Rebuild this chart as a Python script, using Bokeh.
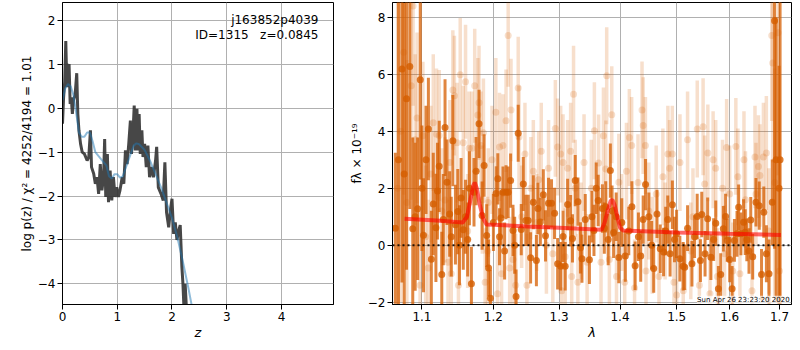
from bokeh.plotting import figure
from bokeh.layouts import row
from bokeh.models import (ColumnDataSource, Range1d, FixedTicker, CustomJSTickFormatter,
                          Label, Span)
from bokeh.embed import file_html
from bokeh.resources import INLINE

# ---------------- data: left panel (redshift probability) ----------------
z_pz = [0.00, 0.02, 0.04, 0.06, 0.08, 0.09, 0.11, 0.12, 0.14, 0.16,
        0.18, 0.20, 0.23, 0.26, 0.28, 0.30, 0.33, 0.36, 0.40, 0.45,
        0.48, 0.51, 0.53, 0.57, 0.60, 0.63, 0.66, 0.69, 0.72, 0.75,
        0.77, 0.79, 0.82, 0.84, 0.87, 0.90, 0.93, 0.96, 0.99, 1.02,
        1.05, 1.09, 1.12, 1.15, 1.18, 1.21, 1.24, 1.26, 1.29, 1.31,
        1.33, 1.36, 1.38, 1.40, 1.42, 1.45, 1.47, 1.50, 1.53, 1.56,
        1.59, 1.62, 1.66, 1.70, 1.72, 1.75, 1.80, 1.84, 1.87, 1.90,
        1.94, 1.97, 2.00, 2.03, 2.06, 2.09, 2.12, 2.15, 2.18, 2.20,
        2.22, 2.24, 2.27, 2.30]
logp_pz = [-0.35, 0.25, 0.60, 1.53, 0.48, 1.01, 0.56, 1.01, 0.10, 0.25,
           -0.13, 0.18, 0.30, 0.80, -0.13, -0.50, -0.81, -1.00, -1.04, -1.19,
           -1.11, -0.50, -1.34, -1.49, -1.72, -1.57, -1.95, -1.27, -1.87, -1.57,
           -0.70, -2.02, -1.04, -2.14, -1.42, -2.10, -1.57, -2.02, -1.80, -2.02,
           -1.87, -1.57, -1.72, -0.96, -1.27, -0.81, -0.28, -1.04, -0.50, 0.06,
           -0.96, -0.01, -0.96, -0.13, -1.04, -0.50, -1.11, -0.81, -1.34, -0.85,
           -1.57, -1.34, -1.57, -1.19, -0.88, -1.80, -1.95, -2.10, -1.23, -2.37,
           -2.71, -2.33, -2.06, -2.86, -2.60, -3.00, -2.80, -2.66, -3.60, -4.00,
           -4.60, -4.00, -4.70, -5.00]

z_smooth = [0.00, 0.05, 0.10, 0.15, 0.20, 0.25, 0.30, 0.35, 0.40, 0.45,
            0.50, 0.55, 0.60, 0.70, 0.80, 0.85, 0.90, 0.95, 1.00, 1.05,
            1.10, 1.20, 1.30, 1.35, 1.40, 1.50, 1.60, 1.70, 1.80, 1.90,
            2.00, 2.10, 2.20, 2.30, 2.40]
logp_smooth = [0.18, 0.45, 0.55, 0.50, 0.30, -0.10, -0.55, -0.65, -0.65, -0.55,
               -0.55, -0.75, -1.00, -1.15, -1.30, -1.55, -1.60, -1.50, -1.50, -1.58,
               -1.55, -1.20, -0.85, -0.80, -0.82, -0.95, -1.20, -1.50, -1.80, -2.15,
               -2.50, -2.95, -3.50, -4.10, -4.75]

z_ticks = [0, 1, 2, 3, 4]
logp_ticks = [-4, -3, -2, -1, 0, 1, 2]

# ---------------- data: right panel (spectrum) ----------------
wave_dark = [
    1.0650, 1.0690, 1.0736, 1.0765, 1.0796, 1.0839, 1.0878, 1.0910, 1.0943, 1.0978,
    1.1000, 1.1021, 1.1055, 1.1087, 1.1127, 1.1153, 1.1189, 1.1210, 1.1234, 1.1269,
    1.1290, 1.1314, 1.1341, 1.1378, 1.1400, 1.1422, 1.1458, 1.1491, 1.1515, 1.1537,
    1.1568, 1.1600, 1.1630, 1.1655, 1.1683, 1.1720, 1.1750, 1.1792, 1.1836, 1.1865,
    1.1902, 1.1930, 1.1957, 1.2000, 1.2039, 1.2065, 1.2090, 1.2111, 1.2141, 1.2165,
    1.2186, 1.2218, 1.2254, 1.2290, 1.2315, 1.2336, 1.2368, 1.2414, 1.2445, 1.2483,
    1.2520, 1.2556, 1.2598, 1.2645, 1.2668, 1.2706, 1.2752, 1.2786, 1.2833, 1.2880,
    1.2928, 1.2976, 1.3024, 1.3062, 1.3096, 1.3135, 1.3183, 1.3213, 1.3257, 1.3301,
    1.3341, 1.3366, 1.3420, 1.3488, 1.3530, 1.3563, 1.3600, 1.3633, 1.3704, 1.3735,
    1.3759, 1.3800, 1.3836, 1.3865, 1.3891, 1.3935, 1.3979, 1.4030, 1.4091, 1.4150,
    1.4204, 1.4260, 1.4317, 1.4357, 1.4400, 1.4442, 1.4500, 1.4550, 1.4586, 1.4645,
    1.4703, 1.4762, 1.4800, 1.4838, 1.4880, 1.4921, 1.4960, 1.4998, 1.5058, 1.5118,
    1.5148, 1.5200, 1.5281, 1.5330, 1.5379, 1.5440, 1.5465, 1.5527, 1.5576, 1.5638,
    1.5690, 1.5731, 1.5781, 1.5826, 1.5876, 1.5920, 1.5952, 1.6000, 1.6047, 1.6092,
    1.6143, 1.6175, 1.6220, 1.6272, 1.6305, 1.6337, 1.6380, 1.6415, 1.6454, 1.6520,
    1.6586, 1.6632, 1.6678, 1.6731, 1.6784, 1.6851, 1.6898, 1.6930, 1.6990, 1.7012]
flux_dark = [
    0.60, 3.00, 6.19, 2.50, 5.14, 6.27, 0.58, 1.00, 1.28, 5.81,
    2.00, 0.35, 3.00, 4.08, -0.49, 1.45, 0.61, 1.90, 2.77, -1.03,
    0.90, 4.13, 2.21, 1.10, 0.30, 3.67, 0.72, 1.18, 0.00, 1.66,
    0.54, 1.00, 0.20, 2.00, -1.35, 1.86, 2.60, 4.26, 1.04, 2.80,
    0.34, -0.80, -1.86, 0.80, 1.82, 2.33, 0.30, 0.96, 1.86, -0.20,
    1.86, 1.86, 2.27, 0.52, 0.00, -1.80, 3.93, 0.55, 2.15, 0.87,
    0.87, -0.44, 1.51, -0.54, 1.29, 0.82, 1.77, 0.33, 1.47, 1.47,
    1.12, -0.65, -0.74, 0.31, -0.74, 1.43, 0.86, 0.24, 2.27, 1.53,
    -0.09, -0.47, 0.90, -0.51, 1.00, 0.52, 2.00, 1.57, 1.29, 0.60,
    1.35, 0.20, 2.62, 1.20, 0.45, 1.00, -0.43, 0.80, -0.38, 0.50,
    1.35, -0.72, 0.30, -0.38, 0.90, 2.13, 1.00, 0.00, -0.82, 1.10,
    -0.12, -0.24, 0.50, 0.90, -0.30, 1.42, 0.20, 0.40, -0.47, -0.74,
    -0.77, 0.60, -0.65, 0.30, 1.01, -0.54, 1.08, -0.30, 0.93, -0.42,
    0.20, 0.77, -1.53, -1.03, 0.58, 1.01, 0.17, -0.50, -1.53, 0.17,
    0.40, 1.33, 0.40, 0.81, 0.46, 0.19, -0.20, 0.89, -0.40, 1.51,
    1.39, -1.03, 1.16, -0.30, -1.00, 1.51, 7.88, 3.00, 2.00, 3.00]
err_dark = [
    2.65, 8.00, 7.50, 6.00, 6.00, 5.00, 3.20, 2.60, 2.50, 3.50,
    2.20, 2.00, 1.90, 1.80, 1.70, 1.80, 1.90, 1.70, 1.60, 1.50,
    1.60, 1.70, 1.50, 1.50, 1.40, 1.60, 1.40, 1.50, 1.40, 1.40,
    1.40, 1.30, 1.30, 1.30, 1.30, 1.20, 1.20, 1.20, 1.20, 1.10,
    1.10, 1.00, 1.00, 1.00, 0.95, 0.90, 1.00, 0.95, 0.90, 1.00,
    0.95, 0.90, 0.95, 0.90, 1.00, 0.95, 1.00, 0.90, 0.95, 0.90,
    0.90, 0.90, 0.95, 0.90, 0.90, 0.85, 0.90, 0.90, 0.90, 0.85,
    0.90, 0.90, 0.85, 0.90, 0.85, 0.90, 0.90, 0.85, 0.90, 0.85,
    0.90, 0.85, 0.90, 0.85, 0.90, 0.90, 0.90, 0.90, 0.85, 0.90,
    0.90, 0.90, 0.95, 0.90, 0.90, 0.85, 0.90, 0.85, 0.90, 0.85,
    0.90, 0.85, 0.85, 0.90, 0.85, 0.90, 0.85, 0.85, 0.85, 0.85,
    0.85, 0.85, 0.85, 0.85, 0.80, 0.85, 0.80, 0.85, 0.80, 0.85,
    0.80, 0.80, 0.80, 0.75, 0.80, 0.75, 0.80, 0.80, 0.75, 0.80,
    0.75, 0.80, 0.80, 0.75, 0.80, 0.80, 0.75, 0.80, 0.80, 0.75,
    0.80, 0.80, 0.75, 0.80, 0.80, 0.75, 0.80, 0.80, 0.80, 0.85,
    0.85, 0.90, 0.90, 1.00, 1.20, 1.50, 8.00, 5.00, 4.30, 6.00]

wave_light = [
    1.0680, 1.0720, 1.0760, 1.0800, 1.0857, 1.0882, 1.0910, 1.0935, 1.0975, 1.1013,
    1.1050, 1.1085, 1.1120, 1.1153, 1.1197, 1.1234, 1.1270, 1.1314, 1.1355, 1.1380,
    1.1400, 1.1422, 1.1444, 1.1480, 1.1500, 1.1525, 1.1568, 1.1600, 1.1630, 1.1650,
    1.1690, 1.1730, 1.1775, 1.1792, 1.1820, 1.1840, 1.1855, 1.1880, 1.1915, 1.1925,
    1.1980, 1.2036, 1.2060, 1.2090, 1.2120, 1.2141, 1.2186, 1.2218, 1.2240, 1.2260,
    1.2290, 1.2330, 1.2368, 1.2380, 1.2420, 1.2470, 1.2500, 1.2560, 1.2598, 1.2650,
    1.2680, 1.2720, 1.2800, 1.2833, 1.2900, 1.2940, 1.2976, 1.3024, 1.3040, 1.3062,
    1.3096, 1.3135, 1.3183, 1.3200, 1.3230, 1.3257, 1.3300, 1.3350, 1.3400, 1.3450,
    1.3520, 1.3570, 1.3640, 1.3680, 1.3720, 1.3760, 1.3775, 1.3820, 1.3860, 1.3940,
    1.3980, 1.4030, 1.4080, 1.4110, 1.4160, 1.4200, 1.4250, 1.4310, 1.4380, 1.4400,
    1.4440, 1.4450, 1.4500, 1.4560, 1.4630, 1.4680, 1.4750, 1.4790, 1.4840, 1.4870,
    1.4920, 1.4950, 1.5000, 1.5060, 1.5120, 1.5200, 1.5260, 1.5300, 1.5380, 1.5420,
    1.5490, 1.5520, 1.5580, 1.5620, 1.5680, 1.5730, 1.5760, 1.5860, 1.5900, 1.5940,
    1.6000, 1.6060, 1.6120, 1.6160, 1.6200, 1.6280, 1.6310, 1.6440, 1.6500, 1.6520,
    1.6570, 1.6600, 1.6670, 1.6730, 1.6780, 1.6840, 1.6860, 1.6900, 1.6970, 1.7000]
flux_light = [
    2.00, 4.00, 6.77, 1.50, 5.60, 8.40, 3.70, 4.47, -1.40, 3.84,
    0.30, -0.80, 2.50, 4.30, 3.90, 3.85, 1.20, 1.59, -0.60, 2.90,
    -1.00, 5.45, 5.25, 3.60, -1.40, 5.98, 3.60, 5.74, 0.50, 3.40,
    3.40, 5.60, 4.57, 5.00, 3.50, 1.60, 3.95, -1.30, -0.20, 1.50,
    3.00, 4.67, -1.70, 3.45, -1.00, 3.50, 4.37, 7.36, -0.80, 4.75,
    -0.50, -1.40, 5.52, 3.80, 1.00, 3.20, -1.40, 2.00, 2.60, 0.80,
    2.30, 3.30, 0.00, 2.70, -0.30, 4.10, 3.45, 3.20, -1.60, 2.90,
    -0.40, 2.70, 3.30, -1.10, 5.30, 2.00, -1.30, 0.50, 2.90, -0.60,
    2.00, 4.02, 2.89, -0.60, 3.84, 2.68, 5.95, -0.50, 4.58, -1.10,
    2.21, 0.80, -1.30, 2.60, 3.78, 3.50, -1.50, 2.20, 4.75, 4.20,
    3.50, -0.90, 1.20, 0.00, 1.80, -1.10, 2.40, 0.50, 3.20, 2.70,
    3.20, -1.30, -1.75, 2.90, -1.60, 3.70, -0.20, 1.00, 4.08, -1.40,
    4.16, 2.15, 3.24, -1.70, 3.00, 2.70, -1.10, 2.00, -0.30, 3.43,
    1.80, -0.90, 3.47, 2.40, -1.00, 3.00, 1.60, -1.60, 3.10, 1.80,
    2.76, 2.45, 3.10, 3.24, 0.50, 7.36, 6.40, 2.20, 7.46, -0.90]
err_light = [
    6.50, 6.00, 5.00, 5.00, 4.00, 3.50, 3.00, 3.00, 2.60, 2.60,
    2.50, 2.40, 2.40, 2.40, 2.30, 2.30, 2.20, 2.20, 2.20, 2.20,
    2.10, 2.10, 2.10, 2.10, 2.00, 2.00, 2.00, 2.00, 2.00, 2.00,
    2.00, 2.00, 2.00, 2.00, 1.90, 1.90, 1.90, 1.90, 1.90, 1.90,
    1.90, 1.90, 1.90, 1.90, 1.80, 1.80, 1.80, 1.80, 1.80, 1.80,
    1.80, 1.80, 1.80, 1.80, 1.80, 1.80, 1.80, 1.80, 1.80, 1.70,
    1.70, 1.70, 1.70, 1.70, 1.70, 1.70, 1.70, 1.70, 1.70, 1.70,
    1.70, 1.70, 1.70, 1.70, 1.70, 1.70, 1.70, 1.70, 1.70, 1.70,
    1.70, 1.70, 1.70, 1.70, 1.70, 1.70, 1.70, 1.70, 1.70, 1.70,
    1.70, 1.70, 1.70, 1.70, 1.70, 1.70, 1.70, 1.70, 1.70, 1.70,
    1.70, 1.70, 1.70, 1.70, 1.70, 1.70, 1.70, 1.70, 1.70, 1.70,
    1.70, 1.70, 1.70, 1.70, 1.70, 1.70, 1.70, 1.70, 1.70, 1.70,
    1.70, 1.70, 1.70, 1.70, 1.70, 1.70, 1.70, 1.70, 1.70, 1.70,
    1.70, 1.70, 1.70, 1.70, 1.70, 1.70, 1.70, 1.70, 1.80, 1.80,
    1.80, 1.80, 1.90, 2.00, 2.20, 3.00, 3.50, 4.00, 5.00, 6.00]

wave_model = [1.077, 1.120, 1.156, 1.162, 1.167, 1.171, 1.173, 1.176, 1.180, 1.185,
              1.190, 1.250, 1.300, 1.369, 1.374, 1.379, 1.384, 1.387, 1.391, 1.396,
              1.400, 1.405, 1.500, 1.600, 1.703]
flux_model = [0.93, 0.87, 0.80, 1.00, 1.60, 2.10, 2.20, 2.00, 1.45, 0.95,
              0.73, 0.66, 0.61, 0.54, 0.80, 1.20, 1.55, 1.60, 1.40, 0.95,
              0.62, 0.52, 0.45, 0.40, 0.36]

wave_ticks = [1.1, 1.2, 1.3, 1.4, 1.5, 1.6, 1.7]
flux_ticks = [-2, 0, 2, 4, 6, 8]

title_name = "j163852p4039"
title_id = "ID=1315\u00a0\u00a0\u00a0z=0.0845"
date_text = "Sun Apr 26 23:23:20 2020"

# ---------------- styling helpers ----------------
FONT = "DejaVu Sans"
ORANGE = "#d55e00"
minus_fmt = "return (tick < 0 ? '\u2212' : '') + Math.abs(tick).toString();"


def style(p, xlabel, ylabel, ylabel_size="12px"):
    p.outline_line_color = "black"
    p.outline_line_width = 1
    p.outline_line_alpha = 1
    p.background_fill_color = "white"
    p.border_fill_color = "white"
    for g in (p.xgrid, p.ygrid):
        g.grid_line_color = "#b0b0b0"
        g.grid_line_width = 1
    for ax in (p.xaxis, p.yaxis):
        ax.axis_line_color = "black"
        ax.major_tick_line_color = "black"
        ax.major_tick_out = 5
        ax.major_tick_in = 0
        ax.minor_tick_line_color = None
        ax.major_label_text_font = FONT
        ax.major_label_text_font_size = "12px"
        ax.major_label_text_color = "black"
        ax.major_label_standoff = 2
        ax.axis_label_text_font = FONT
        ax.axis_label_text_color = "black"
        ax.axis_label_standoff = 1
    p.xaxis.axis_label = xlabel
    p.xaxis.axis_label_text_font_size = "13px"
    p.xaxis.axis_label_text_font_style = "italic"
    p.yaxis.axis_label = ylabel
    p.yaxis.axis_label_text_font_size = ylabel_size
    p.yaxis.axis_label_text_font_style = "normal"


# ---------------- left panel ----------------
p1 = figure(width=335, height=342, x_range=Range1d(0, 4.95), y_range=Range1d(-4.47, 2.41),
            output_backend="svg", toolbar_location=None,
            min_border_left=62, min_border_right=2, min_border_top=2, min_border_bottom=36)
style(p1, "z", "log p(z) / \u03c7\u00b2 = 4252/4194 = 1.01", "12px")
p1.xaxis.ticker = FixedTicker(ticks=z_ticks)
p1.yaxis.ticker = FixedTicker(ticks=logp_ticks)
p1.xgrid.ticker = FixedTicker(ticks=z_ticks)
p1.ygrid.ticker = FixedTicker(ticks=logp_ticks)
p1.yaxis.formatter = CustomJSTickFormatter(code=minus_fmt)

p1.line(z_pz, logp_pz, line_color="#333333", line_width=3, line_alpha=0.9)
p1.line(z_smooth, logp_smooth, line_color="#1f77b4", line_width=2, line_alpha=0.5)

p1.add_layout(Label(x=4.675, y=2.02, text=title_name, text_align="right",
                    text_baseline="middle", text_font=FONT, text_font_size="12px",
                    text_color="black"))
p1.add_layout(Label(x=4.675, y=1.66, text=title_id, text_align="right",
                    text_baseline="middle", text_font=FONT, text_font_size="12px",
                    text_color="black"))

# ---------------- right panel ----------------
p2 = figure(width=457, height=342, x_axis_type="log",
            x_range=Range1d(1.0613, 1.725), y_range=Range1d(-2.08, 8.52),
            output_backend="svg", toolbar_location=None,
            min_border_left=57, min_border_right=1, min_border_top=2, min_border_bottom=36)
style(p2, "\u03bb", "f\u03bb \u00d7 10\u207b\u00b9\u2079", "12px")
p2.xaxis.ticker = FixedTicker(ticks=wave_ticks)
p2.xgrid.ticker = FixedTicker(ticks=wave_ticks)
p2.yaxis.ticker = FixedTicker(ticks=flux_ticks)
p2.ygrid.ticker = FixedTicker(ticks=flux_ticks)
p2.xaxis.formatter = CustomJSTickFormatter(code="return tick.toFixed(1);")
p2.yaxis.formatter = CustomJSTickFormatter(code=minus_fmt)

light = ColumnDataSource(dict(
    w=wave_light, f=flux_light,
    lo=[f - e for f, e in zip(flux_light, err_light)],
    hi=[f + e for f, e in zip(flux_light, err_light)]))
dark = ColumnDataSource(dict(
    w=wave_dark, f=flux_dark,
    lo=[f - e for f, e in zip(flux_dark, err_dark)],
    hi=[f + e for f, e in zip(flux_dark, err_dark)]))

p2.segment(x0="w", y0="lo", x1="w", y1="hi", source=light,
           line_color=ORANGE, line_width=3.5, line_alpha=0.2)
p2.scatter(x="w", y="f", source=light, size=7, fill_color=ORANGE, fill_alpha=0.2,
           line_color=None)
p2.segment(x0="w", y0="lo", x1="w", y1="hi", source=dark,
           line_color=ORANGE, line_width=3, line_alpha=0.75)
p2.scatter(x="w", y="f", source=dark, size=7, fill_color=ORANGE, fill_alpha=0.8,
           line_color=None)

p2.line(wave_model, flux_model, line_color="red", line_width=4, line_alpha=0.6)
p2.add_layout(Span(location=0, dimension="width", line_color="black",
                   line_dash="2 3", line_width=2, line_alpha=0.85))

# timestamp: kept inside the frame's lower-right corner (annotations are clipped to the frame)
p2.add_layout(Label(x=1.721, y=-2.05, text=date_text, text_align="right",
                    text_baseline="bottom", text_font=FONT, text_font_size="7px",
                    text_color="black", background_fill_color="white",
                    background_fill_alpha=0.7))

layout = row(p1, p2)
open("out.html", "w").write(file_html(layout, INLINE))
